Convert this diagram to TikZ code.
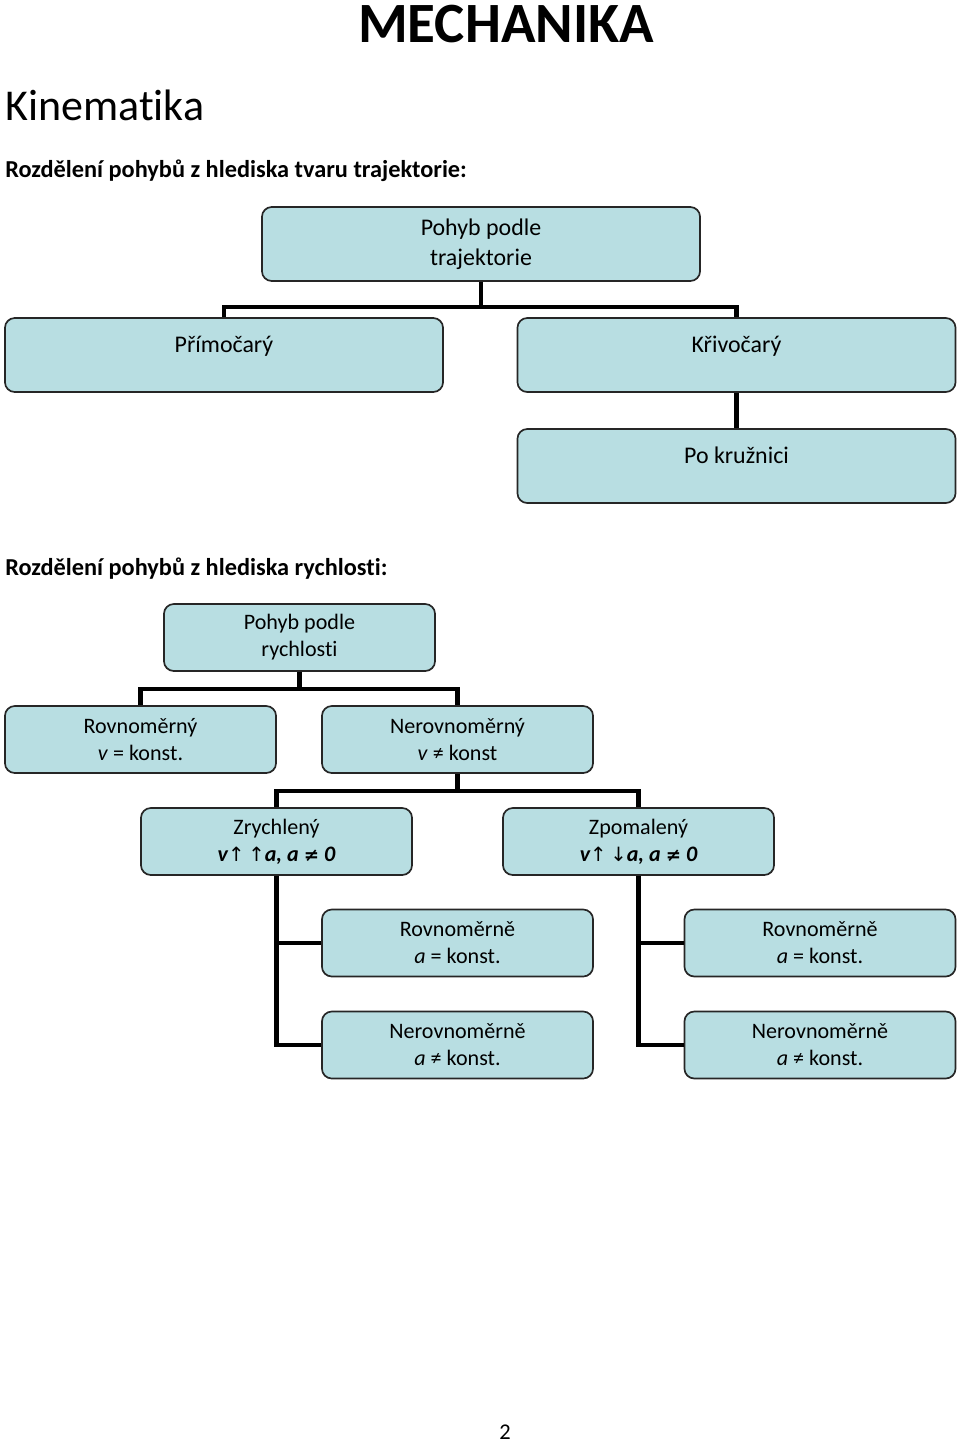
\documentclass[tikz,border=0pt]{standalone}
\usepackage{fontspec}
\setmainfont[Ligatures=NoCommon]{Carlito}
\newfontfamily\arrowfont{DejaVu Sans}
\usetikzlibrary{positioning}

\definecolor{boxblue}{HTML}{B8DEE2}
\newcommand{\arrup}{{\arrowfont\mdseries\upshape\fontsize{14}{14}\selectfont ↑}}
\newcommand{\arrdn}{{\arrowfont\mdseries\upshape\fontsize{14}{14}\selectfont ↓}}
\newcommand{\neqsign}{{\arrowfont\bfseries\itshape\fontsize{13}{13}\selectfont ≠}}

\tikzset{
  bigbox/.style={draw=black!85, line width=1.2pt, fill=boxblue, rounded corners=7pt,
    minimum width=10.95cm, minimum height=1.85cm, align=center, inner sep=0pt,
    font=\fontsize{17}{21.3}\selectfont},
  oneline/.style={text height=12pt, text depth=16pt},
  smallbox/.style={bigbox, minimum width=6.775cm, minimum height=1.675cm,
    font=\fontsize{15.7}{19.2}\selectfont},
  conn/.style={line width=3.4pt},
  heading/.style={anchor=base west, inner sep=0pt, font=\bfseries\fontsize{17.3}{20}\selectfont}
}

\begin{document}
\begin{tikzpicture}[x=0.025cm, y=-0.025cm]
  \useasboundingbox (0,0) rectangle (960,1443);

  % titles
  \node[anchor=base, inner sep=0pt, font=\bfseries\fontsize{40.5}{44}\selectfont] (title) at (506,42) {MECHANIKA};
  \node[anchor=base west, inner sep=0pt, font=\fontsize{31.3}{36}\selectfont] (kinem) at (5,120) {Kinematika};

  % trajektorie
  \node[heading] (head1) at (5,177) {Rozdělení pohybů z hlediska tvaru trajektorie:};
  \node[bigbox] (traj) at (481,244) {Pohyb podle\\trajektorie};
  \node[bigbox, oneline] (prim) at (224,355) {Přímočarý};
  \node[bigbox, oneline] (kriv) at (736.5,355) {Křivočarý};
  \node[bigbox, oneline] (kruz) at (736.5,466) {Po kružnici};
  \coordinate (j1) at (481,307);
  \draw[conn] (traj.south) -- (j1);
  \draw[conn] (prim.north) |- (j1) -| (kriv.north);
  \draw[conn] (kriv.south) -- (kruz.north);

  % rychlost
  \node[heading] (head2) at (5,575) {Rozdělení pohybů z hlediska rychlosti:};
  \node[smallbox] (rych) at (299.5,637.5) {Pohyb podle\\rychlosti};
  \node[smallbox] (rovny) at (140.5,739.5) {Rovnoměrný\\\textit{v} = konst.};
  \node[smallbox] (nerovny) at (457.5,739.5) {Nerovnoměrný\\\textit{v} ≠ konst};
  \node[smallbox] (zrych) at (276.5,841.5) {Zrychlený\\{\bfseries\itshape v\arrup\,\arrup a, a \neqsign\ 0}};
  \node[smallbox] (zpom) at (638.5,841.5) {Zpomalený\\{\bfseries\itshape v\arrup\,\arrdn a, a \neqsign\ 0}};
  \node[smallbox] (rovL) at (457.5,943) {Rovnoměrně\\\textit{a} = konst.};
  \node[smallbox] (nerL) at (457.5,1045) {Nerovnoměrně\\\textit{a} ≠ konst.};
  \node[smallbox] (rovR) at (820,943) {Rovnoměrně\\\textit{a} = konst.};
  \node[smallbox] (nerR) at (820,1045) {Nerovnoměrně\\\textit{a} ≠ konst.};

  \coordinate (j2) at (299.5,689);
  \coordinate (j3) at (457.5,791);
  \draw[conn] (rych.south) -- (j2);
  \draw[conn] (rovny.north) |- (j2) -| (nerovny.north);
  \draw[conn] (nerovny.south) -- (j3);
  \draw[conn] (zrych.north) |- (j3) -| (zpom.north);
  \draw[conn] (zrych.south) |- (rovL.west);
  \draw[conn] (zrych.south) |- (nerL.west);
  \draw[conn] (zpom.south) |- (rovR.west);
  \draw[conn] (zpom.south) |- (nerR.west);

  % page
  \node[anchor=base, inner sep=0pt, font=\fontsize{16}{18}\selectfont] (page) at (505,1439) {2};
\end{tikzpicture}
\end{document}
